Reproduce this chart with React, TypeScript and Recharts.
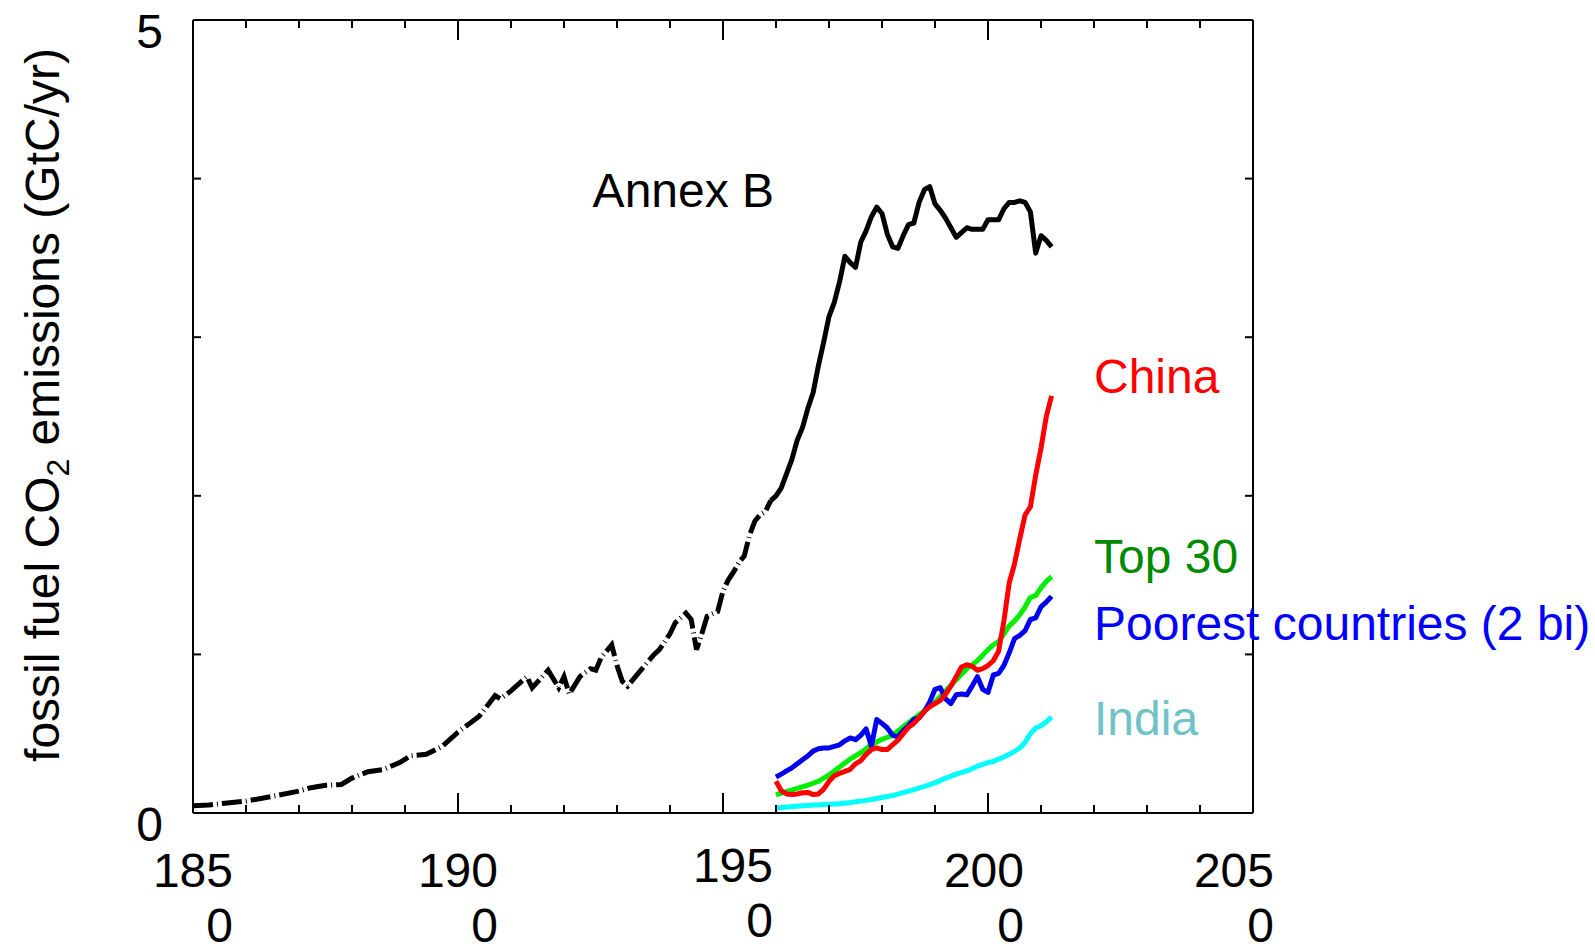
import React from 'react';
import { LineChart, Line, XAxis, YAxis, ReferenceDot } from 'recharts';

// ---------- data (year, GtC/yr) ----------
const annexBEarly: [number, number][] = [
  [1850, 0.045], [1853, 0.05], [1856, 0.062], [1860, 0.075], [1865, 0.105], [1870, 0.138],
  [1872, 0.158], [1875, 0.175], [1878, 0.18], [1880, 0.22], [1883, 0.26], [1886, 0.275],
  [1889, 0.318], [1891, 0.36], [1894, 0.37], [1897, 0.42], [1900, 0.51], [1902, 0.56],
  [1904, 0.61], [1907, 0.74], [1908, 0.72], [1910, 0.77], [1913, 0.86], [1914, 0.79],
  [1917, 0.9], [1919, 0.79], [1920, 0.86], [1921, 0.75], [1923, 0.86], [1925, 0.91],
  [1926, 0.9], [1927, 0.98], [1929, 1.06], [1930, 0.93], [1931, 0.83], [1932, 0.8],
  [1934, 0.88], [1935, 0.92], [1937, 1.0], [1938, 1.03], [1940, 1.13], [1941, 1.2],
  [1943, 1.26], [1944, 1.22], [1945, 1.03], [1946, 1.13], [1947, 1.24], [1949, 1.27],
  [1950, 1.4], [1951, 1.47], [1952, 1.52], [1953, 1.58], [1954, 1.62], [1955, 1.75],
  [1956, 1.84], [1957, 1.88], [1958, 1.9], [1959, 1.97],
];
const annexBLate: [number, number][] = [
  [1959, 1.97], [1960, 2.0], [1961, 2.05], [1962, 2.14], [1963, 2.23], [1964, 2.35],
  [1965, 2.43], [1966, 2.55], [1967, 2.65], [1968, 2.82], [1969, 2.97], [1970, 3.13],
  [1971, 3.22], [1972, 3.35], [1973, 3.51], [1974, 3.47], [1975, 3.44], [1976, 3.6],
  [1977, 3.67], [1978, 3.76], [1979, 3.82], [1980, 3.78], [1981, 3.65], [1982, 3.57],
  [1983, 3.56], [1984, 3.64], [1985, 3.71], [1986, 3.72], [1987, 3.85], [1988, 3.93],
  [1989, 3.95], [1990, 3.84], [1991, 3.8], [1992, 3.75], [1993, 3.69], [1994, 3.63],
  [1995, 3.66], [1996, 3.69], [1997, 3.68], [1998, 3.68], [1999, 3.68], [2000, 3.74],
  [2001, 3.74], [2002, 3.74], [2003, 3.81], [2004, 3.85], [2005, 3.85], [2006, 3.86],
  [2007, 3.85], [2008, 3.79], [2009, 3.53], [2010, 3.64], [2011, 3.61], [2012, 3.57],
];
const chinaSeries: [number, number][] = [
  [1960, 0.2], [1961, 0.14], [1962, 0.12], [1963, 0.116], [1964, 0.12], [1965, 0.128],
  [1966, 0.13], [1967, 0.116], [1968, 0.12], [1969, 0.15], [1970, 0.2], [1971, 0.235],
  [1972, 0.25], [1973, 0.262], [1974, 0.275], [1975, 0.31], [1976, 0.33], [1977, 0.37],
  [1978, 0.4], [1979, 0.41], [1980, 0.4], [1981, 0.4], [1982, 0.43], [1983, 0.46],
  [1984, 0.5], [1985, 0.54], [1986, 0.565], [1987, 0.6], [1988, 0.64], [1989, 0.67],
  [1990, 0.69], [1991, 0.71], [1992, 0.75], [1993, 0.8], [1994, 0.86], [1995, 0.92],
  [1996, 0.935], [1997, 0.925], [1998, 0.9], [1999, 0.91], [2000, 0.93], [2001, 0.96],
  [2002, 1.02], [2003, 1.21], [2004, 1.45], [2005, 1.57], [2006, 1.73], [2007, 1.88],
  [2008, 1.93], [2009, 2.13], [2010, 2.3], [2011, 2.5], [2012, 2.63],
];
const top30Series: [number, number][] = [
  [1960, 0.115], [1962, 0.135], [1964, 0.155], [1966, 0.175], [1968, 0.2], [1970, 0.24],
  [1972, 0.29], [1974, 0.34], [1976, 0.38], [1978, 0.43], [1980, 0.465], [1982, 0.49],
  [1984, 0.545], [1986, 0.595], [1988, 0.645], [1990, 0.7], [1992, 0.77], [1994, 0.84],
  [1996, 0.91], [1998, 0.96], [2000, 1.03], [2001, 1.06], [2002, 1.08], [2003, 1.13],
  [2004, 1.18], [2005, 1.21], [2006, 1.25], [2007, 1.3], [2008, 1.36], [2009, 1.37],
  [2010, 1.42], [2011, 1.46], [2012, 1.49],
];
const poorestSeries: [number, number][] = [
  [1960, 0.227], [1961, 0.245], [1962, 0.265], [1963, 0.285], [1964, 0.31], [1965, 0.335],
  [1966, 0.36], [1967, 0.39], [1968, 0.405], [1969, 0.41], [1970, 0.41], [1971, 0.42],
  [1972, 0.43], [1973, 0.455], [1974, 0.473], [1975, 0.462], [1976, 0.49], [1977, 0.53],
  [1978, 0.42], [1979, 0.59], [1980, 0.565], [1981, 0.536], [1982, 0.49], [1983, 0.48],
  [1984, 0.52], [1985, 0.55], [1986, 0.59], [1987, 0.6], [1988, 0.64], [1989, 0.7],
  [1990, 0.78], [1991, 0.79], [1992, 0.72], [1993, 0.69], [1994, 0.745], [1995, 0.75],
  [1996, 0.745], [1997, 0.8], [1998, 0.86], [1999, 0.78], [2000, 0.76], [2001, 0.87],
  [2002, 0.88], [2003, 0.93], [2004, 1.01], [2005, 1.1], [2006, 1.12], [2007, 1.15],
  [2008, 1.22], [2009, 1.23], [2010, 1.3], [2011, 1.33], [2012, 1.366],
];
const indiaSeries: [number, number][] = [
  [1960, 0.032], [1965, 0.045], [1970, 0.055], [1972, 0.059], [1974, 0.066], [1976, 0.075],
  [1978, 0.085], [1980, 0.098], [1982, 0.11], [1984, 0.128], [1986, 0.148], [1988, 0.168],
  [1990, 0.19], [1992, 0.22], [1994, 0.245], [1996, 0.265], [1998, 0.295], [2000, 0.318],
  [2001, 0.325], [2002, 0.34], [2003, 0.353], [2004, 0.37], [2005, 0.389], [2006, 0.41],
  [2007, 0.446], [2008, 0.5], [2009, 0.536], [2010, 0.55], [2011, 0.575], [2012, 0.605],
];

const xTicks = [1850, 1860, 1870, 1880, 1890, 1900, 1910, 1920, 1930, 1940, 1950,
  1960, 1970, 1980, 1990, 2000, 2010, 2020, 2030, 2040, 2050];
const xLabelled = [1850, 1900, 1950, 2000, 2050];
const yTicks = [0, 1, 2, 3, 4, 5];
const yLabelled = [0, 5];

const annotations = [
  { text: 'Annex B', year: 1925.4, value: 3.82, color: '#000000' },
  { text: 'China', year: 2020, value: 2.65, color: '#ff0000' },
  { text: 'Top 30', year: 2020, value: 1.515, color: '#008a00' },
  { text: 'Poorest countries (2 bi)', year: 2020, value: 1.093, color: '#0000ff' },
  { text: 'India', year: 2020, value: 0.494, color: '#6fc3c8' },
];

const toRows = (pairs: [number, number][]) => pairs.map(([year, value]) => ({ year, value }));

const FONT = '"Liberation Sans", Arial, Helvetica, sans-serif';
const FS = 48;
const MAJOR = 20;
const MINOR = 8;

const labelDx: Record<number, number> = { 1850: 40, 1900: 40, 1950: 50, 2000: 36, 2050: 21 };
const labelDy: Record<number, number> = { 1950: -5 };

const BottomTick = (props: any) => {
  const { x, y, payload } = props;
  const v = payload.value as number;
  const major = xLabelled.includes(v);
  const s = String(v);
  const dx = labelDx[v] ?? 38;
  const dy = labelDy[v] ?? 0;
  return (
    <g>
      <line x1={x} y1={y} x2={x} y2={y - (major ? MAJOR : MINOR)} stroke="#000" strokeWidth={2} />
      {major && (
        <text x={x + dx} y={y + 74 + dy} textAnchor="end" fontFamily={FONT} fontSize={FS} fill="#000">
          <tspan x={x + dx}>{s.slice(0, 3)}</tspan>
          <tspan x={x + dx} dy={55}>{s.slice(3)}</tspan>
        </text>
      )}
    </g>
  );
};

const TopTick = (props: any) => {
  const { x, y, payload } = props;
  const major = xLabelled.includes(payload.value);
  return <line x1={x} y1={y} x2={x} y2={y + (major ? MAJOR : MINOR)} stroke="#000" strokeWidth={2} />;
};

const LeftTick = (props: any) => {
  const { x, y, payload } = props;
  const major = yLabelled.includes(payload.value);
  return (
    <g>
      <line x1={x} y1={y} x2={x + (major ? MAJOR : MINOR)} y2={y} stroke="#000" strokeWidth={2} />
      {major && (
        <text x={x - 30} y={y + 28} textAnchor="end" fontFamily={FONT} fontSize={FS} fill="#000">
          {payload.value}
        </text>
      )}
    </g>
  );
};

const RightTick = (props: any) => {
  const { x, y, payload } = props;
  const major = yLabelled.includes(payload.value);
  return <line x1={x} y1={y} x2={x - (major ? MAJOR : MINOR)} y2={y} stroke="#000" strokeWidth={2} />;
};

const YTitle = () => (
  <text
    x={59}
    y={405}
    transform="rotate(-90, 59, 405)"
    textAnchor="middle"
    fontFamily={FONT}
    fontSize={FS}
    fill="#000"
  >
    fossil fuel CO
    <tspan dy={10} fontSize={32}>2</tspan>
    <tspan dy={-10}> emissions (GtC/yr)</tspan>
  </text>
);

const axisLine = { stroke: '#000', strokeWidth: 2 };

export default function App() {
  return (
    <div style={{ position: 'absolute', left: 0, top: 0, background: '#fff' }}>
      <LineChart
        width={1595}
        height={947}
        margin={{ top: 19, right: 341, bottom: 0, left: 0 }}
      >
        <XAxis
          xAxisId="b"
          dataKey="year"
          type="number"
          orientation="bottom"
          domain={[1850, 2050]}
          ticks={xTicks}
          interval={0}
          height={134}
          tickSize={0}
          tickMargin={0}
          tickLine={false}
          axisLine={axisLine}
          tick={<BottomTick />}
          allowDataOverflow
        />
        <XAxis
          xAxisId="t"
          dataKey="year"
          type="number"
          orientation="top"
          domain={[1850, 2050]}
          ticks={xTicks}
          interval={0}
          height={1}
          tickSize={0}
          tickMargin={0}
          tickLine={false}
          axisLine={axisLine}
          tick={<TopTick />}
          allowDataOverflow
        />
        <YAxis
          yAxisId="l"
          type="number"
          orientation="left"
          domain={[0, 5]}
          ticks={yTicks}
          interval={0}
          width={193}
          tickSize={0}
          tickMargin={0}
          tickLine={false}
          axisLine={axisLine}
          tick={<LeftTick />}
          label={<YTitle />}
          allowDataOverflow
        />
        <YAxis
          yAxisId="r"
          type="number"
          orientation="right"
          domain={[0, 5]}
          ticks={yTicks}
          interval={0}
          width={1}
          tickSize={0}
          tickMargin={0}
          tickLine={false}
          axisLine={axisLine}
          tick={<RightTick />}
          allowDataOverflow
        />

        {annotations.map((a) => (
          <ReferenceDot
            key={a.text}
            xAxisId="b"
            yAxisId="l"
            x={a.year}
            y={a.value}
            r={0}
            ifOverflow="visible"
            shape={(p: any) => (
              <text x={p.cx} y={p.cy} fontFamily={FONT} fontSize={FS} fill={a.color}>
                {a.text}
              </text>
            )}
          />
        ))}

        <Line xAxisId="b" yAxisId="l" data={toRows(annexBEarly)} dataKey="value" type="linear"
          stroke="#000" strokeWidth={5} strokeDasharray="20 4 1 4" dot={false} isAnimationActive={false} />
        <Line xAxisId="b" yAxisId="l" data={toRows(annexBLate)} dataKey="value" type="linear"
          stroke="#000" strokeWidth={5} strokeLinejoin="round" dot={false} isAnimationActive={false} />
        <Line xAxisId="b" yAxisId="l" data={toRows(indiaSeries)} dataKey="value" type="linear"
          stroke="#00ffff" strokeWidth={5} strokeLinejoin="round" dot={false} isAnimationActive={false} />
        <Line xAxisId="b" yAxisId="l" data={toRows(top30Series)} dataKey="value" type="linear"
          stroke="#00ee00" strokeWidth={5} strokeLinejoin="round" dot={false} isAnimationActive={false} />
        <Line xAxisId="b" yAxisId="l" data={toRows(poorestSeries)} dataKey="value" type="linear"
          stroke="#0000ee" strokeWidth={5} strokeLinejoin="round" dot={false} isAnimationActive={false} />
        <Line xAxisId="b" yAxisId="l" data={toRows(chinaSeries)} dataKey="value" type="linear"
          stroke="#ff0000" strokeWidth={5} strokeLinejoin="round" dot={false} isAnimationActive={false} />
      </LineChart>
    </div>
  );
}
